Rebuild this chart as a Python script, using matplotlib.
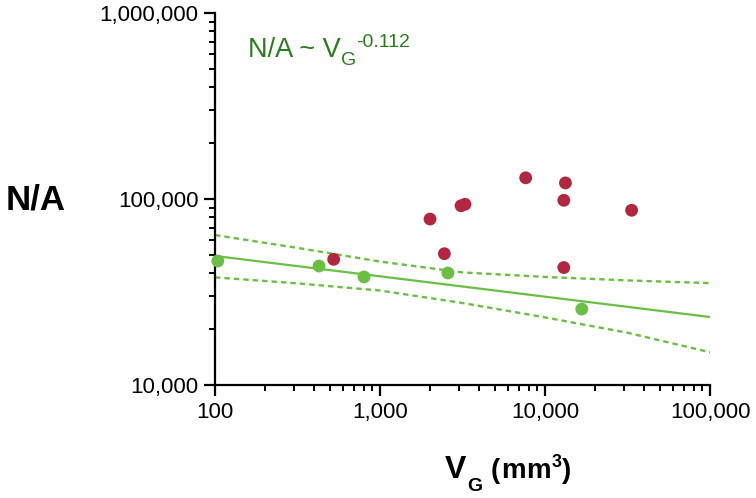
import matplotlib
matplotlib.use("Agg")
import matplotlib.pyplot as plt
from matplotlib.ticker import LogLocator, FuncFormatter, NullFormatter

plt.rcParams['font.family'] = ['Liberation Sans', 'DejaVu Sans']

# Data
green_x = [104, 427, 800, 2580, 16700]
green_y = [46400, 43600, 38100, 40000, 25600]
red_x = [524, 2010, 2455, 3100, 3275, 7640, 13300, 13000, 13000, 33500]
red_y = [47400, 78000, 50800, 92000, 93700, 130000, 122000, 98400, 42800, 87000]

fit_x = [100, 100000]
fit_y = [49400, 23200]
band_x = [100, 316, 1000, 3162, 10000, 31623, 100000]
band_upper = [64000, 54600, 46100, 40300, 38100, 36500, 35300]
band_lower = [37900, 35200, 32200, 27600, 23100, 19100, 15000]

x_ticks = [100, 1000, 10000, 100000]
y_ticks = [10000, 100000, 1000000]

GREEN = '#6cbf45'
RED = '#b3263f'
TEXT_GREEN = '#2a7d1c'

W, H = 756, 498
fig = plt.figure(figsize=(W / 100, H / 100), dpi=100)
ax = fig.add_axes([215 / W, 1 - 385 / H, (710 - 215) / W, (385 - 13) / H])

ax.plot(fit_x, fit_y, color=GREEN, lw=1.6, zorder=2)
ax.plot(band_x, band_upper, color=GREEN, lw=1.7, ls=(0, (2.3, 1.7)), zorder=2)
ax.plot(band_x, band_lower, color=GREEN, lw=1.7, ls=(0, (2.3, 1.7)), zorder=2)
ax.scatter(red_x, red_y, s=85, color=RED, edgecolors='none', zorder=3, clip_on=False)
ax.scatter(green_x, green_y, s=85, color=GREEN, edgecolors='none', zorder=3, clip_on=False)

ax.set_xscale('log')
ax.set_yscale('log')
ax.set_xlim(100, 100000)
ax.set_ylim(10000, 1000000)

ax.set_xticks(x_ticks)
ax.set_yticks(y_ticks)
fmt = FuncFormatter(lambda v, p: f"{int(round(v)):,}")
ax.xaxis.set_major_formatter(fmt)
ax.yaxis.set_major_formatter(fmt)
ax.xaxis.set_minor_locator(LogLocator(base=10, subs=range(2, 10)))
ax.yaxis.set_minor_locator(LogLocator(base=10, subs=range(2, 10)))
ax.xaxis.set_minor_formatter(NullFormatter())
ax.yaxis.set_minor_formatter(NullFormatter())

for s in ['top', 'right']:
    ax.spines[s].set_visible(False)
for s in ['left', 'bottom']:
    ax.spines[s].set_linewidth(1.6)
ax.tick_params(which='major', direction='out', length=8, width=1.6, labelsize=16, pad=4)
ax.tick_params(which='minor', direction='out', length=4.5, width=1.4)

renderer = fig.canvas.get_renderer()
PT = 100 / 72.0


def compose(pieces, x0, y0, color='black'):
    """pieces: (text, size_pt, weight, baseline_shift_pt, gap_pt); x0, y0 in pixels from top-left."""
    x = x0
    for txt, size, weight, dy, gap in pieces:
        x += gap * PT
        t = fig.text(x / W, 1 - (y0 - dy * PT) / H, txt, fontsize=size, fontweight=weight,
                     color=color, ha='left', va='baseline')
        x += t.get_window_extent(renderer).width


# annotation inside the plot
compose([('N/A ~ V', 19.5, 'normal', 0, 0),
         ('G', 14, 'normal', -5.5, 0),
         ('-0.112', 14, 'normal', 7, 0.3)], 248, 57, color=TEXT_GREEN)

# y label
fig.text(36 / W, 1 - 200 / H, 'N/A', fontsize=25, fontweight='bold', ha='center', va='center')

# x label
compose([('V', 23, 'bold', 0, 0),
         ('G', 14, 'bold', -9.5, 0.5),
         ('(', 20, 'bold', 0, 6),
         ('m', 20, 'bold', 0, 0.8),
         ('m', 20, 'bold', 0, 0.8),
         ('3', 13, 'bold', 8, 0.3),
         (')', 20, 'bold', 0, 0.3)], 445, 478)

fig.savefig('out.png', dpi=100)
